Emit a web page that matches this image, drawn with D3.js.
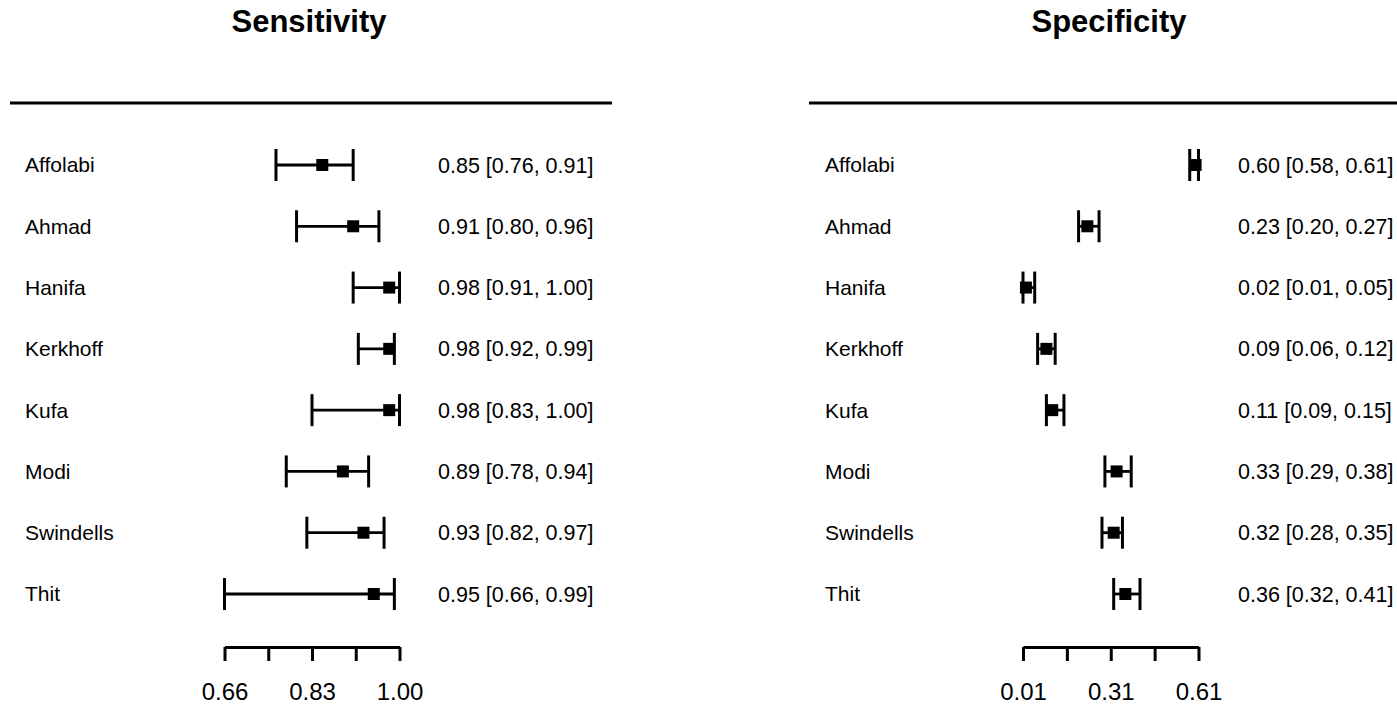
<!DOCTYPE html>
<html lang="en">
<head>
<meta charset="UTF-8">
<title>Forest plot</title>
<script src="https://d3js.org/d3.v7.min.js"></script>
<style>
    body { margin: 0; background: #fff; }
    svg { font-family: "Liberation Sans", Arial, sans-serif; }
    .axis path, .axis line { stroke: #000; stroke-width: 3; }
    .axis text { font-size: 24px; fill: #000; }
</style>
</head>
<body>
<div id="chart"></div>
<script>
var studies = ["Affolabi", "Ahmad", "Hanifa", "Kerkhoff", "Kufa", "Modi", "Swindells", "Thit"];

var sensEst   = [0.85, 0.91, 0.98, 0.98, 0.98, 0.89, 0.93, 0.95];
var sensLower = [0.76, 0.80, 0.91, 0.92, 0.83, 0.78, 0.82, 0.66];
var sensUpper = [0.91, 0.96, 1.00, 0.99, 1.00, 0.94, 0.97, 0.99];

var specEst   = [0.60, 0.23, 0.02, 0.09, 0.11, 0.33, 0.32, 0.36];
var specLower = [0.58, 0.20, 0.01, 0.06, 0.09, 0.29, 0.28, 0.32];
var specUpper = [0.61, 0.27, 0.05, 0.12, 0.15, 0.38, 0.35, 0.41];

var sensTicks = [0.66, 0.745, 0.83, 0.915, 1.00];
var specTicks = [0.01, 0.16, 0.31, 0.46, 0.61];

var W = 1397, H = 709;
var svg = d3.select("#chart").append("svg")
    .attr("width", W)
    .attr("height", H);

var y = d3.scalePoint()
    .domain(studies)
    .range([165, 594]);

function panel(opt) {
    var g = svg.append("g");
    var x = d3.scaleLinear()
        .domain([opt.ticks[0], opt.ticks[opt.ticks.length - 1]])
        .range(opt.range);

    g.append("text")
        .attr("x", opt.titleX)
        .attr("y", 32)
        .attr("text-anchor", "middle")
        .style("font-size", "31px")
        .style("font-weight", "bold")
        .text(opt.title);

    g.append("line")
        .attr("x1", opt.lineX[0]).attr("x2", opt.lineX[1])
        .attr("y1", 103).attr("y2", 103)
        .attr("stroke", "#000")
        .attr("stroke-width", 3);

    var rows = studies.map(function(s, i) {
        return { name: s, est: opt.est[i], lo: opt.lo[i], hi: opt.hi[i] };
    });

    var row = g.selectAll(".row").data(rows).enter().append("g")
        .attr("transform", function(d) { return "translate(0," + y(d.name) + ")"; });

    row.append("text")
        .attr("x", opt.labelX)
        .attr("dy", "0.35em")
        .style("font-size", "21px")
        .text(function(d) { return d.name; });

    row.append("line")
        .attr("x1", function(d) { return x(d.lo); })
        .attr("x2", function(d) { return x(d.hi); })
        .attr("stroke", "#000").attr("stroke-width", 2.8);

    ["lo", "hi"].forEach(function(k) {
        row.append("line")
            .attr("x1", function(d) { return x(d[k]); })
            .attr("x2", function(d) { return x(d[k]); })
            .attr("y1", -16).attr("y2", 16)
            .attr("stroke", "#000").attr("stroke-width", 3);
    });

    row.append("rect")
        .attr("x", function(d) { return x(d.est) - 6; })
        .attr("y", -6)
        .attr("width", 12).attr("height", 12)
        .attr("fill", "#000");

    row.append("text")
        .attr("x", opt.numX)
        .attr("dy", "0.35em")
        .style("font-size", "21.5px")
        .text(function(d) {
            return d.est.toFixed(2) + " [" + d.lo.toFixed(2) + ", " + d.hi.toFixed(2) + "]";
        });

    var axis = d3.axisBottom(x)
        .tickValues(opt.ticks)
        .tickSize(14)
        .tickSizeOuter(0)
        .tickPadding(22)
        .tickFormat(function(d, i) { return i % 2 === 0 ? d3.format(".2f")(d) : ""; });

    var ax = g.append("g")
        .attr("class", "axis")
        .attr("transform", "translate(0,647)")
        .call(axis);
    ax.select(".domain").attr("fill", "none");
    ax.selectAll("text").style("font-family", "\"Liberation Sans\", Arial, sans-serif");
}

panel({
    title: "Sensitivity", titleX: 309, lineX: [10, 612], labelX: 25, numX: 438,
    range: [224.5, 399.5], ticks: sensTicks, est: sensEst, lo: sensLower, hi: sensUpper
});

panel({
    title: "Specificity", titleX: 1109, lineX: [809, 1397], labelX: 825, numX: 1238,
    range: [1023, 1198.5], ticks: specTicks, est: specEst, lo: specLower, hi: specUpper
});
</script>
</body>
</html>
